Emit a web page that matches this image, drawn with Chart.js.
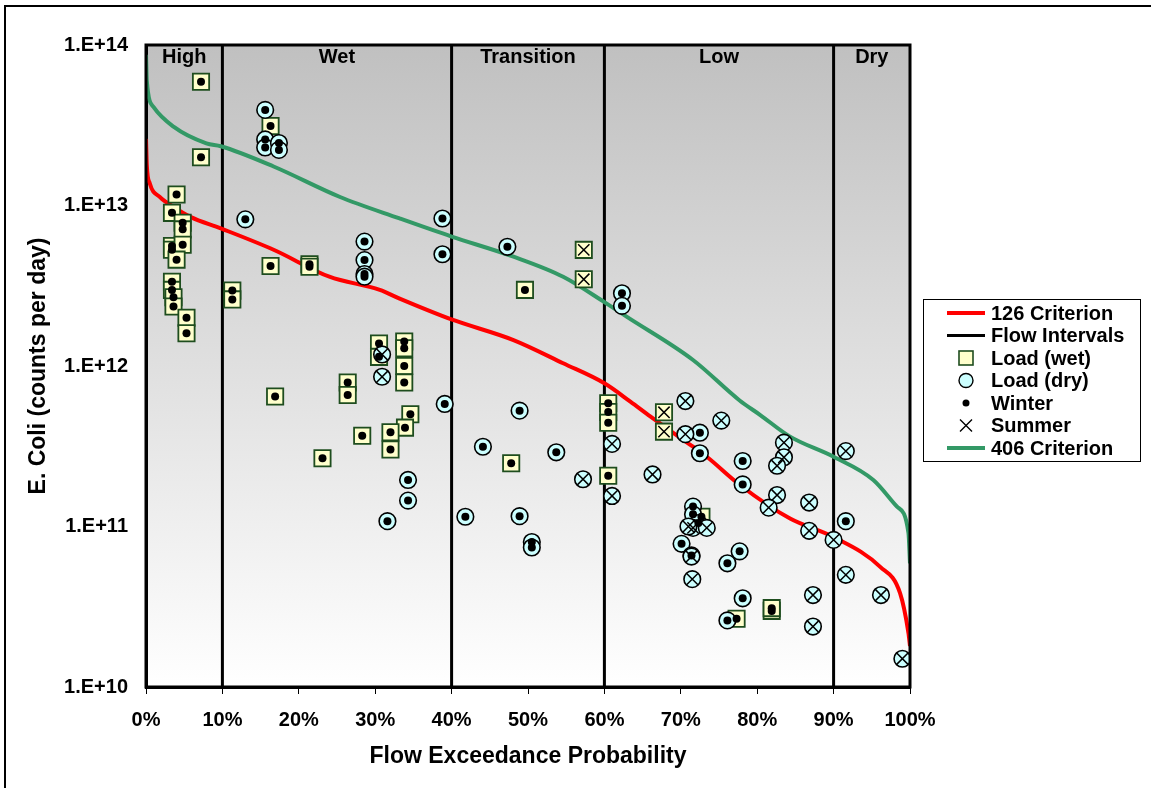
<!DOCTYPE html>
<html><head><meta charset="utf-8">
<script src="https://cdn.jsdelivr.net/npm/chart.js@4.4.1/dist/chart.umd.min.js"></script>
<style>html,body{margin:0;padding:0;background:#fff;overflow:hidden}#wrap{width:1151px;height:788px;position:relative}</style>
</head><body><div id="wrap"><canvas id="c" width="1151" height="788"></canvas></div>
<script>
const FONT = '"Liberation Sans", Arial, Helvetica, sans-serif';

// ---- axis ticks ----
const xTicks = [0, 10, 20, 30, 40, 50, 60, 70, 80, 90, 100];
const xTickLabels = ['0%', '10%', '20%', '30%', '40%', '50%', '60%', '70%', '80%', '90%', '100%'];
const yTicks = [1e10, 1e11, 1e12, 1e13, 1e14];
const yTickLabels = ['1.E+10', '1.E+11', '1.E+12', '1.E+13', '1.E+14'];

// ---- flow intervals ----
const intervalBounds = [10, 40, 60, 90];
const intervalNames = ['High', 'Wet', 'Transition', 'Low', 'Dry'];
const intervalCenters = [5, 25, 50, 75, 95];

// ---- criterion curves (flow exceedance %, load) ----
const crit126X = [0, 0.1, 0.5, 1.8, 3.6, 5.8, 9.8, 16.7, 24, 30.6, 33.2, 40, 48.1, 54.6, 60, 63.4, 66, 71.6, 73.4, 77.7, 84.3, 90, 96.1, 98.7, 99.8, 100];
const crit126Y = [2.6e13, 1.8e13, 1.37e13, 1.13e13, 9.8e12, 8.5e12, 7.2e12, 5.3e12, 3.6e12, 2.98e12, 2.63e12, 1.95e12, 1.45e12, 1.04e12, 7.8e11, 6.0e11, 4.85e11, 3.14e11, 2.72e11, 1.82e11, 1.12e11, 8.6e10, 5.6e10, 3.84e10, 2.16e10, 1.8e10];
const crit406X = [0, 0.1, 1.0, 3.6, 7.9, 9.8, 16.7, 25.4, 33.2, 40, 48.1, 54.6, 60, 62.9, 71.6, 77.7, 80.4, 84.3, 90, 95.2, 98.3, 99.8, 100];
const crit406Y = [8.7e13, 6.0e13, 4.1e13, 3.1e13, 2.44e13, 2.34e13, 1.75e13, 1.13e13, 8.3e12, 6.4e12, 4.8e12, 3.6e12, 2.5e12, 2.03e12, 1.09e12, 6.1e11, 4.95e11, 3.63e11, 2.72e11, 1.95e11, 1.33e11, 9.1e10, 5.9e10];

// ---- observed loads [exceedance %, counts/day] ----
const wetWinter = [
  [7.2, 5.9e13], [7.2, 2.0e13], [4.0, 1.17e13], [3.4, 9.0e12], [4.8, 7.8e12], [4.8, 7.1e12],
  [3.4, 5.6e12], [3.4, 5.3e12], [4.8, 5.7e12], [4.0, 4.6e12], [3.4, 3.35e12], [3.4, 2.98e12],
  [3.6, 2.68e12], [3.6, 2.35e12], [5.3, 2.0e12], [5.3, 1.6e12], [11.3, 2.95e12], [11.3, 2.6e12],
  [16.3, 4.2e12], [21.4, 4.3e12], [21.4, 4.15e12], [16.9, 6.45e11], [23.1, 2.66e11], [16.3, 3.13e13],
  [30.5, 1.38e12], [30.5, 1.14e12], [33.8, 1.42e12], [33.8, 1.29e12], [33.8, 1.0e12], [33.8, 7.9e11],
  [26.4, 7.9e11], [26.4, 6.6e11], [34.6, 5.0e11], [33.9, 4.13e11], [32.0, 3.86e11], [32.0, 3.02e11],
  [28.3, 3.68e11], [49.6, 2.98e12], [47.8, 2.48e11], [60.5, 5.86e11], [60.5, 5.17e11], [60.5, 4.43e11],
  [60.5, 2.07e11], [72.7, 1.15e11], [77.3, 2.66e10], [81.9, 2.98e10], [81.9, 3.1e10]
];
const wetSummer = [[57.3, 5.29e12], [57.3, 3.47e12], [67.8, 5.15e11], [67.8, 3.9e11]];
const dryWinter = [
  [15.6, 3.94e13], [15.6, 2.58e13], [15.6, 2.3e13], [17.4, 2.45e13], [17.4, 2.22e13], [13.0, 8.2e12],
  [28.6, 5.96e12], [28.6, 4.57e12], [28.6, 3.74e12], [28.6, 3.6e12], [38.8, 8.3e12], [38.8, 4.97e12],
  [47.3, 5.53e12], [62.3, 2.84e12], [62.3, 2.37e12], [39.1, 5.8e11], [48.9, 5.27e11], [44.1, 3.14e11],
  [53.7, 2.9e11], [41.8, 1.15e11], [48.9, 1.16e11], [50.5, 8.0e10], [50.5, 7.4e10], [34.3, 1.95e11],
  [34.3, 1.45e11], [31.6, 1.08e11], [72.5, 3.84e11], [72.5, 2.86e11], [78.1, 2.56e11], [78.1, 1.83e11],
  [71.6, 1.33e11], [71.6, 1.19e11], [72.3, 1.05e11], [70.1, 7.8e10], [77.7, 7.0e10], [76.1, 5.9e10],
  [78.1, 3.57e10], [76.1, 2.6e10], [91.6, 1.08e11], [71.4, 6.6e10]
];
const drySummer = [
  [30.9, 1.18e12], [30.9, 8.57e11], [57.2, 1.97e11], [61.0, 3.27e11], [61.0, 1.55e11], [70.6, 6.05e11],
  [70.6, 3.76e11], [75.3, 4.57e11], [66.3, 2.11e11], [83.5, 3.33e11], [83.5, 2.7e11], [82.6, 2.39e11],
  [82.6, 1.57e11], [81.5, 1.31e11], [86.8, 1.41e11], [86.8, 9.4e10], [90.0, 8.25e10], [71.6, 9.8e10],
  [73.4, 9.8e10], [71.0, 1.0e11], [71.4, 6.5e10], [71.5, 4.7e10], [87.3, 3.74e10], [87.3, 2.38e10],
  [91.6, 2.95e11], [91.6, 5.0e10], [96.2, 3.74e10], [99.0, 1.5e10]
];

// ---- styles ----
const RED = '#ff0000', GREEN = '#339966', WET_FILL = '#ffffcc', WET_EDGE = '#1e4d1e', DRY_FILL = '#ccffff';
const toXY = arr => arr.map(p => ({x: p[0], y: p[1]}));
const zipXY = (xs, ys) => xs.map((x, i) => ({x, y: ys[i]}));

const datasets = [];
datasets.push({label: 'Winter', data: toXY(wetWinter.concat(dryWinter)), pointStyle: 'circle', pointRadius: 4,
  backgroundColor: '#000', borderColor: '#000', borderWidth: 0, showLine: false, order: 0});
datasets.push({label: 'Summer', data: toXY(wetSummer.concat(drySummer)), pointStyle: 'crossRot', pointRadius: 8,
  backgroundColor: '#000', borderColor: '#000', borderWidth: 1.5, showLine: false, order: 0});
datasets.push({label: 'Load (dry)', data: toXY(dryWinter.concat(drySummer)), pointStyle: 'circle', pointRadius: 8.3,
  backgroundColor: DRY_FILL, borderColor: '#000', borderWidth: 1.6, showLine: false, order: 1});
datasets.push({label: 'Load (wet)', data: toXY(wetWinter.concat(wetSummer)), pointStyle: 'rect', pointRadius: 11.5,
  backgroundColor: WET_FILL, borderColor: WET_EDGE, borderWidth: 1.8, showLine: false, order: 2});
datasets.push({label: '126 Criterion', data: zipXY(crit126X, crit126Y), showLine: true, pointRadius: 0,
  borderColor: RED, borderWidth: 4, cubicInterpolationMode: 'monotone', order: 3});
datasets.push({label: '406 Criterion', data: zipXY(crit406X, crit406Y), showLine: true, pointRadius: 0,
  borderColor: GREEN, borderWidth: 4, cubicInterpolationMode: 'monotone', order: 3});
intervalBounds.forEach(b => datasets.push({label: 'Flow Intervals', data: [{x: b, y: yTicks[0]}, {x: b, y: yTicks[yTicks.length - 1]}],
  showLine: true, pointRadius: 0, borderColor: '#000', borderWidth: 3, order: 4}));

const bgPlugin = {
  id: 'bg',
  beforeDraw(chart) {
    const {ctx, chartArea: a} = chart;
    ctx.save();
    ctx.fillStyle = '#fff';
    ctx.fillRect(0, 0, chart.width, chart.height);
    ctx.strokeStyle = '#000'; ctx.lineWidth = 2;
    ctx.beginPath(); ctx.moveTo(5, 800); ctx.lineTo(5, 6); ctx.lineTo(1160, 6); ctx.stroke();
    const g = ctx.createLinearGradient(0, a.top, 0, a.bottom);
    g.addColorStop(0, '#c0c0c0'); g.addColorStop(1, '#ffffff');
    ctx.fillStyle = g;
    ctx.fillRect(a.left, a.top, a.right - a.left, a.bottom - a.top);
    ctx.restore();
  },
  afterDatasetsDraw(chart) {
    const {ctx, chartArea: a, scales} = chart;
    ctx.save();
    ctx.strokeStyle = '#000'; ctx.lineWidth = 3;
    ctx.strokeRect(a.left, a.top, a.right - a.left, a.bottom - a.top);
    ctx.fillStyle = '#000';
    ctx.font = 'bold 20px ' + FONT;
    ctx.textAlign = 'center'; ctx.textBaseline = 'middle';
    intervalNames.forEach((n, i) => ctx.fillText(n, scales.x.getPixelForValue(intervalCenters[i]), a.top + 12));
    ctx.restore();
  },
  afterDraw(chart) {
    const {ctx} = chart;
    const L = 923, T = 299, R = 1140, B = 461;
    ctx.save();
    ctx.fillStyle = '#fff'; ctx.fillRect(L, T, R - L, B - T);
    ctx.strokeStyle = '#000'; ctx.lineWidth = 1; ctx.strokeRect(L + 0.5, T + 0.5, R - L, B - T);
    const rows = [
      {t: '126 Criterion', k: 'line', c: RED},
      {t: 'Flow Intervals', k: 'line', c: '#000'},
      {t: 'Load (wet)', k: 'wet'},
      {t: 'Load (dry)', k: 'dry'},
      {t: 'Winter', k: 'dot'},
      {t: 'Summer', k: 'x'},
      {t: '406 Criterion', k: 'line', c: GREEN}
    ];
    const cx = 966;
    rows.forEach((r, i) => {
      const y = 313 + i * 22.5;
      if (r.k === 'line') {
        ctx.strokeStyle = r.c; ctx.lineWidth = r.c === '#000' ? 3 : 4;
        ctx.beginPath(); ctx.moveTo(947, y); ctx.lineTo(985, y); ctx.stroke();
      } else if (r.k === 'wet') {
        ctx.fillStyle = WET_FILL; ctx.strokeStyle = WET_EDGE; ctx.lineWidth = 1.6;
        ctx.fillRect(cx - 7, y - 7, 14, 14); ctx.strokeRect(cx - 7, y - 7, 14, 14);
      } else if (r.k === 'dry') {
        ctx.fillStyle = DRY_FILL; ctx.strokeStyle = '#000'; ctx.lineWidth = 1.4;
        ctx.beginPath(); ctx.arc(cx, y, 7, 0, Math.PI * 2); ctx.fill(); ctx.stroke();
      } else if (r.k === 'dot') {
        ctx.fillStyle = '#000'; ctx.beginPath(); ctx.arc(cx, y, 3.5, 0, Math.PI * 2); ctx.fill();
      } else {
        ctx.strokeStyle = '#000'; ctx.lineWidth = 1.4;
        ctx.beginPath(); ctx.moveTo(cx - 6, y - 6); ctx.lineTo(cx + 6, y + 6);
        ctx.moveTo(cx + 6, y - 6); ctx.lineTo(cx - 6, y + 6); ctx.stroke();
      }
      ctx.fillStyle = '#000'; ctx.font = 'bold 20px ' + FONT;
      ctx.textAlign = 'left'; ctx.textBaseline = 'middle';
      ctx.fillText(r.t, 991, y + 1);
    });
    ctx.restore();
  }
};

new Chart(document.getElementById('c'), {
  type: 'scatter',
  data: {datasets},
  plugins: [bgPlugin],
  options: {
    responsive: false, animation: false, devicePixelRatio: 1, events: [],
    layout: {padding: {left: 0, top: 45, right: 241, bottom: 0}},
    plugins: {legend: {display: false}, tooltip: {enabled: false}},
    scales: {
      x: {
        type: 'linear', min: 0, max: 100,
        afterBuildTicks: s => { s.ticks = xTicks.map(v => ({value: v})); },
        afterFit: s => { s.height = 101; },
        grid: {drawOnChartArea: false, drawTicks: true, tickLength: 7, color: '#000', lineWidth: 1},
        border: {display: true, color: '#000', width: 3},
        ticks: {color: '#000', padding: 14, maxRotation: 0, autoSkip: false,
          font: {family: FONT, size: 20, weight: 'bold'},
          callback: (v) => xTickLabels[xTicks.indexOf(v)]},
        title: {display: true, text: 'Flow Exceedance Probability', color: '#000',
          font: {family: FONT, size: 23, weight: 'bold'}, padding: {top: 0, bottom: 18}}
      },
      y: {
        type: 'logarithmic', min: yTicks[0], max: yTicks[yTicks.length - 1],
        afterBuildTicks: s => { s.ticks = yTicks.map(v => ({value: v})); },
        afterFit: s => { s.width = 146; },
        grid: {display: false, drawTicks: false},
        border: {display: true, color: '#000', width: 3},
        ticks: {color: '#000', padding: 18, autoSkip: false,
          font: {family: FONT, size: 20, weight: 'bold'},
          callback: (v) => yTickLabels[yTicks.indexOf(v)]},
        title: {display: true, text: 'E. Coli (counts per day)', color: '#000',
          font: {family: FONT, size: 23, weight: 'bold'}, padding: {top: 25, bottom: 0}}
      }
    }
  }
});
</script>
</body></html>
